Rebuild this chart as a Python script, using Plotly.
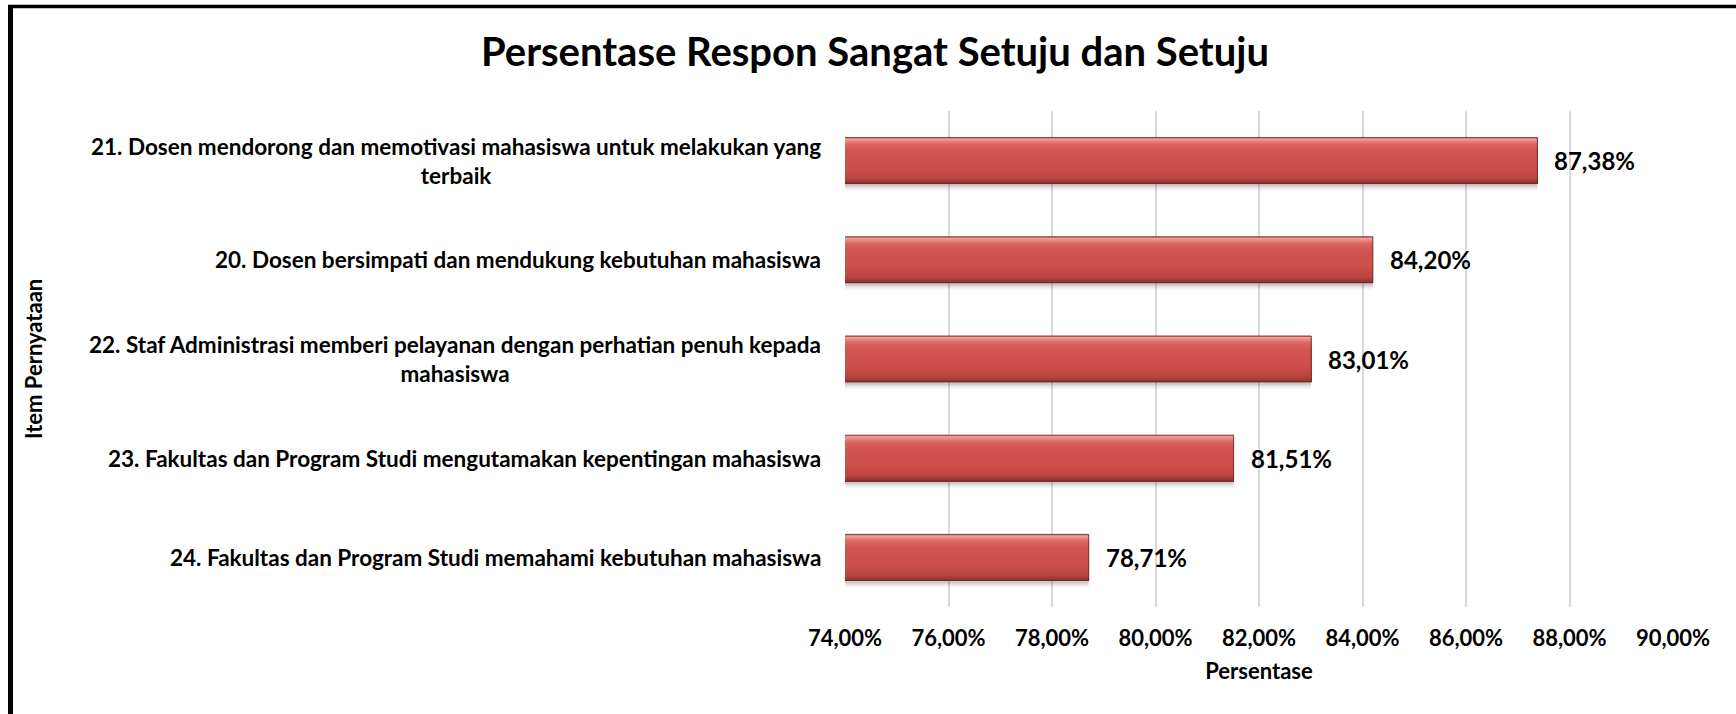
import plotly.graph_objects as go

# ---- data (bottom-to-top order on the chart) ----
categories = [
    "24. Fakultas dan Program Studi memahami kebutuhan mahasiswa",
    "23. Fakultas dan Program Studi mengutamakan kepentingan mahasiswa",
    "22. Staf Administrasi memberi pelayanan dengan perhatian penuh kepada<br>mahasiswa",
    "20. Dosen bersimpati dan mendukung kebutuhan mahasiswa",
    "21. Dosen mendorong dan memotivasi mahasiswa untuk melakukan yang<br>terbaik",
]
values = [78.71, 81.51, 83.01, 84.20, 87.38]
x_ticks = [74, 76, 78, 80, 82, 84, 86, 88, 90]
x_tick_labels = [f"{t:.2f}".replace(".", ",") + "%" for t in x_ticks]

title_text = "Persentase Respon Sangat Setuju dan Setuju"
x_title = "Persentase"
y_title = "Item Pernyataan"

# ---- layout geometry (pixels) ----
W_FIG, H_FIG = 1736, 714
L, R, T, B = 845, 63, 111, 107
plot_w = W_FIG - L - R
plot_h = H_FIG - T - B
u = len(categories) / plot_h          # category units per pixel
BAR_PX = 46
W = BAR_PX * u

FONT = "Lato"

# vertical gradient of the bar face (pixel from top, rgb)
grad_stops = [
    (0, (168, 69, 66)),
    (1, (244, 166, 163)),
    (3, (236, 140, 136)),
    (7, (219, 100, 96)),
    (14, (209, 84, 80)),
    (30, (204, 79, 75)),
    (40, (190, 70, 67)),
    (44, (156, 58, 55)),
    (46, (120, 44, 42)),
]

def grad_color(p):
    for (p0, c0), (p1, c1) in zip(grad_stops[:-1], grad_stops[1:]):
        if p0 <= p <= p1:
            t = (p - p0) / (p1 - p0) if p1 > p0 else 0
            c = [round(a + (b - a) * t) for a, b in zip(c0, c1)]
            return f"rgb({c[0]},{c[1]},{c[2]})"
    c = grad_stops[-1][1]
    return f"rgb({c[0]},{c[1]},{c[2]})"

fig = go.Figure()

def layer(a, b, color, line=None):
    """bar layer spanning a..b pixels below the bar's top edge"""
    off = W / 2 - b * u
    wid = (b - a) * u
    fig.add_trace(go.Bar(
        y=categories, x=values, orientation="h",
        offset=off, width=wid,
        marker=dict(color=color, line=line or dict(width=0)),
        hoverinfo="skip", showlegend=False,
    ))

# soft shadow
layer(3, BAR_PX + 7, "rgba(0,0,0,0.04)")
layer(3, BAR_PX + 5, "rgba(0,0,0,0.07)")
layer(3, BAR_PX + 3, "rgba(0,0,0,0.10)")
# gradient face: each layer covers from its pixel row down to the bottom,
# so the rows are painted over each other without gaps
for p in range(BAR_PX):
    layer(p, BAR_PX, grad_color(p + 0.5))
# thin dark outline
layer(0, BAR_PX, "rgba(0,0,0,0)", dict(width=1, color="rgba(110,38,36,0.85)"))

annotations = []
# category labels
for c in categories:
    annotations.append(dict(
        x=0, xref="paper", y=c, yref="y", text=c,
        xanchor="right", yanchor="middle", align="center",
        xshift=-22, showarrow=False,
        font=dict(family=FONT, size=22.5, color="#000000", weight="bold"),
    ))
# data labels
for c, v in zip(categories, values):
    annotations.append(dict(
        x=v, xref="x", y=c, yref="y",
        text=f"{v:.2f}".replace(".", ",") + "%",
        xanchor="left", yanchor="middle", xshift=15, showarrow=False,
        font=dict(family=FONT, size=24, color="#000000", weight="bold"),
    ))
# y axis title
annotations.append(dict(
    x=(33 - L) / plot_w, xref="paper", y=0.5, yref="paper",
    text=y_title, textangle=-90, showarrow=False,
    xanchor="center", yanchor="middle",
    font=dict(family=FONT, size=22, color="#000000", weight="bold"),
))

def px_x(p):
    return (p - L) / plot_w

def px_y(p):
    return (H_FIG - B - p) / plot_h

shapes = [
    dict(type="line", xref="paper", yref="paper",
         x0=px_x(10.5), x1=px_x(10.5), y0=px_y(5), y1=px_y(H_FIG + 10),
         line=dict(color="#000000", width=5)),
    dict(type="line", xref="paper", yref="paper",
         x0=px_x(8), x1=px_x(W_FIG + 10), y0=px_y(6.5), y1=px_y(6.5),
         line=dict(color="#000000", width=3.5)),
]

fig.update_layout(
    width=W_FIG, height=H_FIG,
    margin=dict(l=L, r=R, t=T, b=B, pad=0),
    paper_bgcolor="white", plot_bgcolor="white",
    barmode="overlay",
    title=dict(
        text=title_text, x=875 / W_FIG, xanchor="center",
        y=1 - 52 / H_FIG, yanchor="middle", yref="container",
        font=dict(family=FONT, size=40, color="#000000", weight="bold"),
    ),
    xaxis=dict(
        range=[74, 90], tickvals=x_ticks, ticktext=x_tick_labels,
        showgrid=True, gridcolor="#D9D9D9", gridwidth=2,
        zeroline=False, showline=False,
        ticks="outside", ticklen=12, tickcolor="rgba(0,0,0,0)",
        tickfont=dict(family=FONT, size=22, color="#000000", weight="bold"),
        title=dict(text=x_title, standoff=13,
                   font=dict(family=FONT, size=22, color="#000000", weight="bold")),
        fixedrange=True,
    ),
    yaxis=dict(
        categoryorder="array", categoryarray=categories,
        showticklabels=False, showgrid=False, zeroline=False, showline=False,
        range=[-0.5, len(categories) - 0.5],
        fixedrange=True,
    ),
    annotations=annotations,
    shapes=shapes,
    showlegend=False,
)

fig.write_html(
    "out.html",
    config={"displayModeBar": False, "staticPlot": True},
    post_script="document.body.style.margin='0';document.body.style.overflow='hidden';",
)
